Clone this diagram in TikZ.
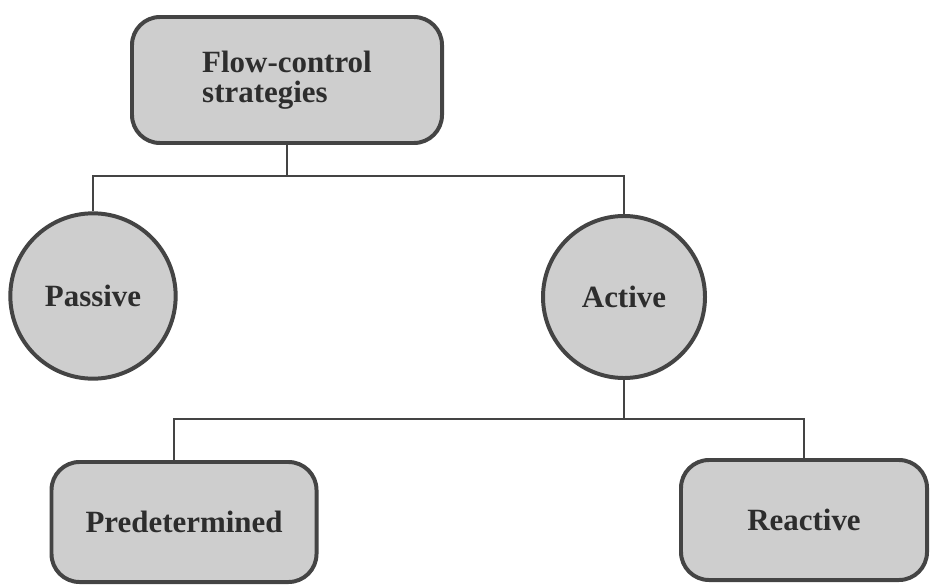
\documentclass[tikz,border=0pt]{standalone}
\usepackage{fontspec}
\setmainfont{Liberation Serif}
\definecolor{boxfill}{RGB}{206,206,206}
\definecolor{boxline}{RGB}{68,68,68}
\definecolor{textgray}{RGB}{45,45,45}
\tikzset{
  treebox/.style={draw=boxline,line width=1.7pt,fill=boxfill,rounded corners=0.42cm,
    text=textgray,font=\fontsize{13.2}{12.8}\selectfont\bfseries,inner sep=0pt},
  treecircle/.style={draw=boxline,line width=1.7pt,fill=boxfill,circle,
    text=textgray,font=\fontsize{13.2}{12.8}\selectfont\bfseries,inner sep=0pt},
  link/.style={draw=boxline,line width=0.85pt}
}
\begin{document}
\begin{tikzpicture}[x=0.015cm,y=-0.015cm]
\useasboundingbox (0,0) rectangle (933,585);
\node[treebox,minimum width=4.65cm,minimum height=1.89cm,align=left] (strategies) at (287,80) {Flow-control\\strategies};
\node[treecircle,minimum size=2.48cm] (passive) at (93,296) {Passive};
\node[treecircle,minimum size=2.43cm] (active) at (624,297) {Active};
\node[treebox,minimum width=3.975cm,minimum height=1.8cm] (predetermined) at (184,522) {Predetermined};
\node[treebox,minimum width=3.69cm,minimum height=1.8cm] (reactive) at (804,520) {Reactive};
% first fork
\coordinate (forkA) at (287,176);
\draw[link] (strategies.south) -- (forkA);
\draw[link] (passive.north) |- (forkA) -| (active.north);
% second fork
\coordinate (forkB) at (624,419);
\draw[link] (active.south) -- (forkB);
\draw[link] ([xshift=-0.15cm]predetermined.north) |- (forkB) -| (reactive.north);
\end{tikzpicture}
\end{document}
